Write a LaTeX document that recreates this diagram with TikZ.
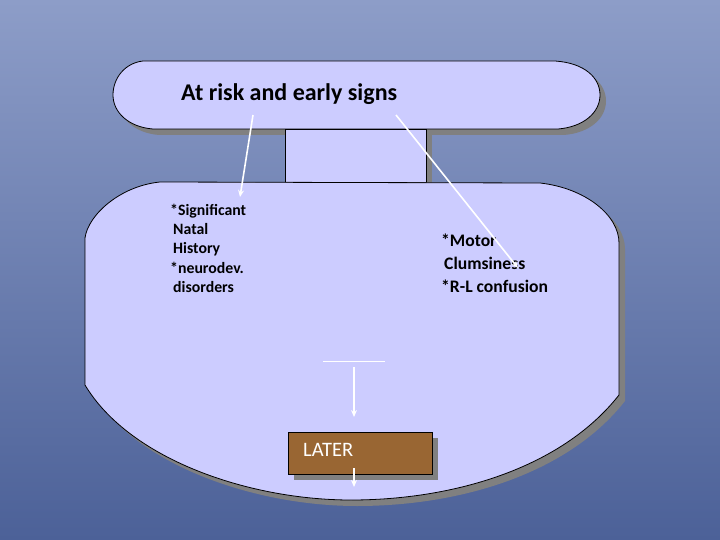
\documentclass[tikz,border=0pt]{standalone}
\usepackage{fontspec}
\setmainfont{Carlito}
\usetikzlibrary{arrows.meta}
\definecolor{bgtop}{RGB}{141,157,200}
\definecolor{bgbot}{RGB}{76,97,152}
\definecolor{shapefill}{RGB}{204,204,255}
\definecolor{boxbrown}{RGB}{153,102,51}
\definecolor{shadowgray}{RGB}{128,128,128}
\begin{document}
\begin{tikzpicture}[x=1pt,y=-1pt,
  shapestyle/.style={fill=shapefill,draw=black,line width=0.8pt},
  shadowstyle/.style={fill=shadowgray},
  wline/.style={draw=white,line width=1.6pt},
  warrow/.style={wline,-{Stealth[length=7pt,width=6pt]}},
  txt/.style={inner sep=0pt,anchor=base west,text=black},
  bigtxt/.style={txt,font=\bfseries\fontsize{24}{28}\selectfont},
  lefttxt/.style={txt,font=\bfseries\fontsize{15.8}{19}\selectfont},
  righttxt/.style={txt,font=\bfseries\fontsize{17.6}{22}\selectfont}]
\useasboundingbox (0,0) rectangle (720,540);
\shade[top color=bgtop,bottom color=bgbot] (0,0) rectangle (720,540);

% shadows
\fill[shadowstyle] (149,67) -- (561,67) .. controls (591,69) and (606,84) .. (606,101) .. controls (606,119) and (589,133) .. (564,135) -- (159,135) .. controls (134,133) and (119,118) .. (119,101) .. controls (119,84) and (131,69) .. (149,67) -- cycle;
\fill[shadowstyle] (291,135) rectangle (432,188);
\fill[shadowstyle] (166,188) -- (546,189) .. controls (591,194) and (625,221) .. (625,249) -- (625,401) .. controls (566,476) and (456,506) .. (357,506) .. controls (256,506) and (136,466) .. (91,391) -- (91,244) .. controls (94,221) and (126,192) .. (166,188) -- cycle;

% shapes
\draw[shapestyle] (285,129) rectangle (426,182);
\draw[shapestyle] (143,61) -- (555,61) .. controls (585,63) and (600,78) .. (600,95) .. controls (600,113) and (583,127) .. (558,129) -- (153,129) .. controls (128,127) and (113,112) .. (113,95) .. controls (113,78) and (125,63) .. (143,61) -- cycle;
\draw[shapestyle] (160,182) -- (540,183) .. controls (585,188) and (619,215) .. (619,243) -- (619,395) .. controls (560,470) and (450,500) .. (351,500) .. controls (250,500) and (130,460) .. (85,385) -- (85,238) .. controls (88,215) and (120,186) .. (160,182) -- cycle;

% LATER box
\fill[shadowstyle] (294,438) rectangle (438,480);
\node[draw=black,fill=boxbrown,line width=0.8pt,minimum width=144,minimum height=42,inner sep=0pt] (laterbox) at (360,453) {};
\node[txt,text=white,font=\fontsize{20.5}{24}\selectfont] (later) at (303,456) {LATER};

% texts
\node[bigtxt] (title) at (181,101) {At risk and early signs};
\node[lefttxt] (l1) at (170,215) {*Significant};
\node[lefttxt] (l2) at (173,235) {Natal};
\node[lefttxt] (l3) at (173,254) {History};
\node[lefttxt] (l4) at (170,273) {*neurodev.};
\node[lefttxt] (l5) at (173,292) {disorders};
\node[righttxt] (r1) at (441,247) {*Motor};
\node[righttxt] (r2) at (444,269) {Clumsiness};
\node[righttxt] (r3) at (441,292) {*R-L confusion};

% connectors
\coordinate (a1s) at (253,115);
\coordinate (a1e) at (240,197);
\draw[warrow] (a1s) -- (a1e);
\coordinate (a2s) at (396,115);
\coordinate (a2e) at (518,268);
\draw[warrow] (a2s) -- (a2e);
\coordinate (h1) at (323,361);
\coordinate (h2) at (385,361);
\draw[wline,line width=1pt] (h1) -- (h2);
\coordinate (v1s) at (354,367);
\coordinate (v1e) at (354,417);
\draw[warrow] (v1s) -- (v1e);
\coordinate (v2s) at (354,468);
\coordinate (v2e) at (354,487);
\draw[warrow] (v2s) -- (v2e);
\end{tikzpicture}
\end{document}
